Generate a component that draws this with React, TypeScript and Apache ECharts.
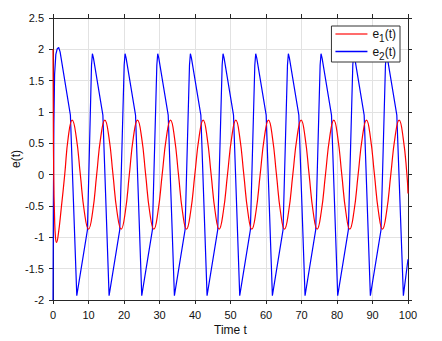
import React, { useEffect, useRef } from "react";
import * as echarts from "echarts";

// x-axis tick values and y-axis tick values
const xTicks = [0, 10, 20, 30, 40, 50, 60, 70, 80, 90, 100];
const yTicks = [-2, -1.5, -1, -0.5, 0, 0.5, 1, 1.5, 2, 2.5];
const seriesNames = ["e1(t)", "e2(t)"];

// e1(t): [time, value]
const e1 = [
  [0, 2.0], [0.08, 1.0], [0.2, 0.0], [0.45, -0.7], [0.7, -1.0], [1.0, -1.08], [1.5, -0.95], [2.3, -0.55], [3.3, 0.0], [4.3, 0.6], [5.4, 0.87],
  [6.55, 0.6], [7.7, 0.0], [8.85, -0.6], [10.0, -0.87],
  [11.15, -0.6], [12.3, 0.0], [13.45, 0.6], [14.6, 0.87],
  [15.75, 0.6], [16.9, 0.0], [18.05, -0.6], [19.2, -0.87],
  [20.35, -0.6], [21.5, 0.0], [22.65, 0.6], [23.8, 0.87],
  [24.95, 0.6], [26.1, 0.0], [27.25, -0.6], [28.4, -0.87],
  [29.55, -0.6], [30.75, 0.0], [31.95, 0.6], [33.1, 0.87],
  [34.2, 0.6], [35.35, 0.0], [36.5, -0.6], [37.6, -0.87],
  [38.75, -0.6], [39.95, 0.0], [41.15, 0.6], [42.3, 0.87],
  [43.4, 0.6], [44.55, 0.0], [45.7, -0.6], [46.8, -0.87],
  [47.95, -0.6], [49.15, 0.0], [50.35, 0.6], [51.5, 0.87],
  [52.6, 0.6], [53.75, 0.0], [54.9, -0.6], [56.0, -0.87],
  [57.15, -0.6], [58.35, 0.0], [59.55, 0.6], [60.7, 0.87],
  [61.8, 0.6], [62.95, 0.0], [64.1, -0.6], [65.2, -0.87],
  [66.35, -0.6], [67.55, 0.0], [68.75, 0.6], [69.9, 0.87],
  [71.0, 0.6], [72.15, 0.0], [73.3, -0.6], [74.4, -0.87],
  [75.55, -0.6], [76.75, 0.0], [77.95, 0.6], [79.1, 0.87],
  [80.2, 0.6], [81.35, 0.0], [82.5, -0.6], [83.6, -0.87],
  [84.75, -0.6], [85.95, 0.0], [87.15, 0.6], [88.3, 0.87],
  [89.4, 0.6], [90.55, 0.0], [91.7, -0.6], [92.8, -0.87],
  [93.95, -0.6], [95.15, 0.0], [96.35, 0.6], [97.5, 0.87],
  [98.65, 0.58], [99.7, 0.0], [100, -0.3],
];

// e2(t): [time, value]
const e2 = [
  [0, -2.0], [0.1, -0.5], [0.25, 0.8], [0.45, 1.6], [0.8, 1.92], [1.2, 2.01], [1.6, 2.03], [2.0, 1.96], [4.9, 0.95], [6.7, -1.93],
  [9.7, -0.88], [10.85, 1.75], [11.1, 1.93], [11.4, 1.86], [14.05, 0.95], [15.8, -1.93],
  [18.8, -0.88], [20.05, 1.75], [20.3, 1.93], [20.6, 1.86], [23.25, 0.95], [25.0, -1.93],
  [28.0, -0.88], [29.25, 1.75], [29.5, 1.93], [29.8, 1.86], [32.45, 0.95], [34.2, -1.93],
  [37.2, -0.88], [38.45, 1.75], [38.7, 1.93], [39.0, 1.86], [41.65, 0.95], [43.4, -1.93],
  [46.4, -0.88], [47.65, 1.75], [47.9, 1.93], [48.2, 1.86], [50.85, 0.95], [52.6, -1.93],
  [55.6, -0.88], [56.85, 1.75], [57.1, 1.93], [57.4, 1.86], [60.05, 0.95], [61.8, -1.93],
  [64.8, -0.88], [66.05, 1.75], [66.3, 1.93], [66.6, 1.86], [69.25, 0.95], [71.0, -1.93],
  [74.0, -0.88], [75.25, 1.75], [75.5, 1.93], [75.8, 1.86], [78.45, 0.95], [80.2, -1.93],
  [83.2, -0.88], [84.45, 1.75], [84.7, 1.93], [85.0, 1.86], [87.65, 0.95], [89.4, -1.93],
  [92.4, -0.88], [93.65, 1.75], [93.9, 1.93], [94.2, 1.86], [96.85, 0.95], [98.7, -1.93],
  [100, -1.35],
];

const FONT = "'Liberation Sans', Arial, Helvetica, sans-serif";
const AXIS_COLOR = "#262626";
const GRID_COLOR = "#e2e2e2";

export default function App() {
  const ref = useRef<HTMLDivElement>(null);
  useEffect(() => {
    if (!ref.current) return;
    const chart = echarts.init(ref.current, null, { renderer: "svg" });
    const xMin = xTicks[0];
    const xMax = xTicks[xTicks.length - 1];
    const yMin = yTicks[0];
    const yMax = yTicks[yTicks.length - 1];
    const commonAxisLine = { show: true, onZero: false, lineStyle: { color: AXIS_COLOR, width: 1 } };
    const commonTick = { show: true, inside: false, length: 4, lineStyle: { color: AXIS_COLOR } };
    chart.setOption({
      animation: false,
      backgroundColor: "#ffffff",
      textStyle: { fontFamily: FONT },
      grid: { left: 53, right: 34, top: 18, bottom: 41, containLabel: false, outerBoundsMode: "none" },
      legend: {
        data: [
          { name: seriesNames[0], itemStyle: { color: "#ff3b3b" } },
          { name: seriesNames[1], itemStyle: { color: "#0000ff" } },
        ],
        orient: "vertical",
        right: 42,
        top: 26,
        backgroundColor: "#ffffff",
        borderColor: "#333333",
        borderWidth: 1,
        borderRadius: 0,
        padding: [2, 4, 1, 4],
        itemGap: 2,
        itemWidth: 32,
        itemHeight: 1.5,
        icon: "rect",
        formatter: (name: string) => {
          const sub = name.charAt(1);
          return "{a|e}{s|" + sub + "}{a|(t)}";
        },
        textStyle: {
          fontFamily: FONT,
          color: "#111111",
          rich: {
            a: { fontSize: 12, fontFamily: FONT, color: "#111111", lineHeight: 19 },
            s: { fontSize: 10, fontFamily: FONT, color: "#111111", padding: [9, 0, 0, 0] },
          },
        },
      },
      xAxis: [
        {
          type: "value",
          min: xMin,
          max: xMax,
          interval: 10,
          position: "bottom",
          name: "Time t",
          nameLocation: "middle",
          nameGap: 24,
          nameMoveOverlap: false,
          nameTextStyle: { fontSize: 12, color: "#111111", fontFamily: FONT },
          axisLine: commonAxisLine,
          axisTick: commonTick,
          axisLabel: { fontSize: 11, color: "#111111", margin: 9, fontFamily: FONT },
          splitLine: { show: true, lineStyle: { color: GRID_COLOR, width: 1 } },
        },
        {
          type: "value",
          min: xMin,
          max: xMax,
          interval: 10,
          position: "top",
          axisLine: commonAxisLine,
          axisTick: commonTick,
          axisLabel: { show: false },
          splitLine: { show: false },
        },
      ],
      yAxis: [
        {
          type: "value",
          min: yMin,
          max: yMax,
          interval: 0.5,
          position: "left",
          name: "e(t)",
          nameLocation: "middle",
          nameGap: 31,
          nameMoveOverlap: false,
          nameRotate: 90,
          nameTextStyle: { fontSize: 12, color: "#111111", fontFamily: FONT },
          axisLine: commonAxisLine,
          axisTick: commonTick,
          axisLabel: { fontSize: 11, color: "#111111", margin: 9, fontFamily: FONT },
          splitLine: { show: true, lineStyle: { color: GRID_COLOR, width: 1 } },
        },
        {
          type: "value",
          min: yMin,
          max: yMax,
          interval: 0.5,
          position: "right",
          axisLine: commonAxisLine,
          axisTick: commonTick,
          axisLabel: { show: false },
          splitLine: { show: false },
        },
      ],
      series: [
        {
          name: seriesNames[0],
          type: "line",
          data: e1,
          smooth: 0.5,
          symbol: "none",
          lineStyle: { color: "#ff0000", width: 1.2 },
          itemStyle: { color: "#ff0000" },
          z: 3,
        },
        {
          name: seriesNames[1],
          type: "line",
          data: e2,
          smooth: false,
          symbol: "none",
          lineStyle: { color: "#0000ff", width: 1.2 },
          itemStyle: { color: "#0000ff" },
          z: 2,
        },
      ],
    });
    return () => chart.dispose();
  }, []);
  return (
    <div
      ref={ref}
      style={{ position: "absolute", left: 0, top: 0, width: 442, height: 341 }}
    />
  );
}
